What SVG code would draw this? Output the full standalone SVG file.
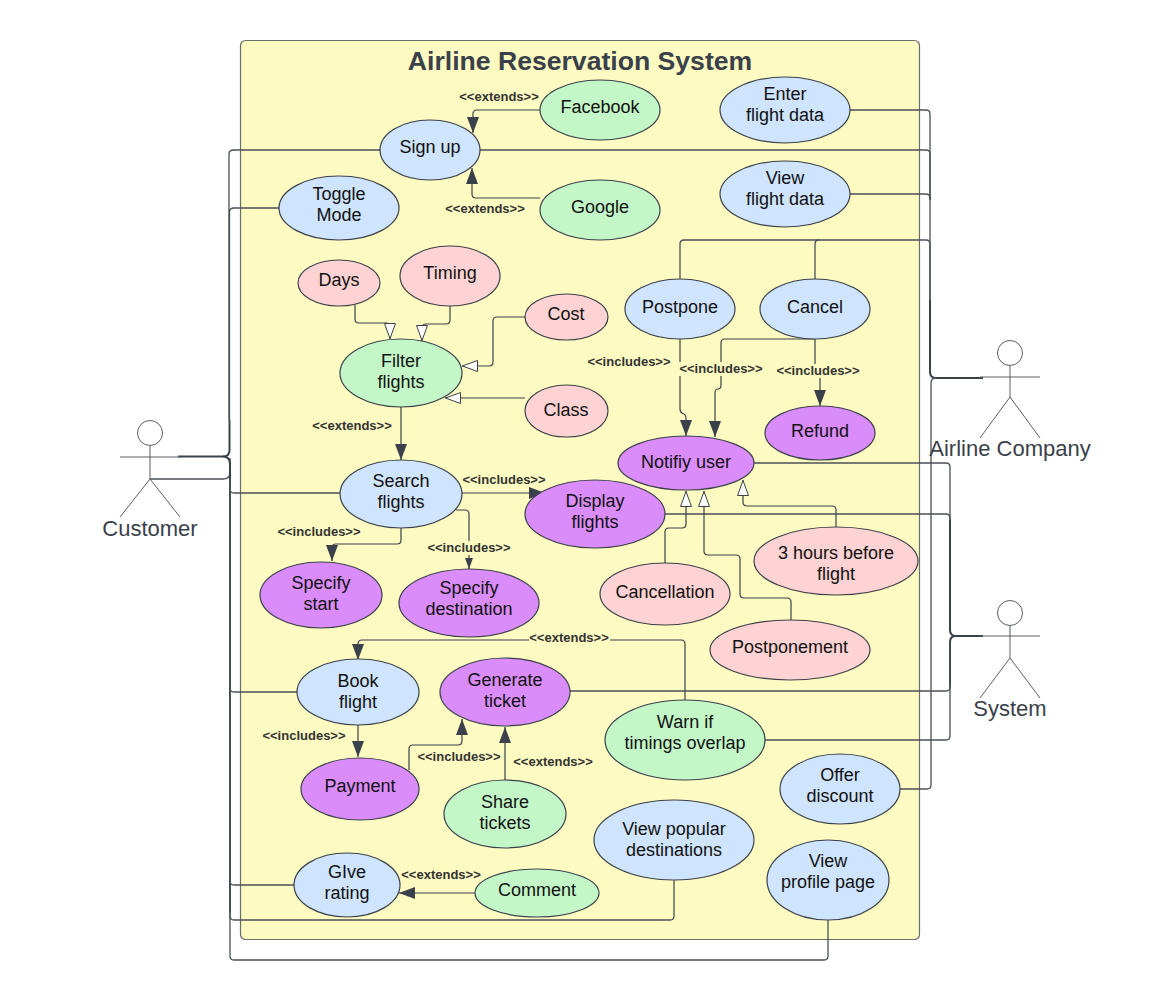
<svg xmlns="http://www.w3.org/2000/svg" width="1160" height="1001" viewBox="0 0 1160 1001">
<style>
text{font-family:"Liberation Sans",Arial,sans-serif;text-anchor:middle}
.n text{font-size:18px;fill:#111}
.n ellipse{stroke:#3a414a;stroke-width:1.2}
.b{fill:#cfe4ff}.g{fill:#c3f7c8}.p{fill:#ffd3d3}.u{fill:#da8cfa}
.c path{fill:none;stroke:#3a414a;stroke-width:1.2}
.c .bus{stroke:#4a5058;stroke-width:1.3}
.c .t{stroke:#3a414a;stroke-width:2}
.f{marker-end:url(#fa)}.s{marker-end:url(#sa)}.h{marker-end:url(#ha)}
.l rect{fill:#fdfbc2}
.l text{font-size:13px;font-weight:bold;fill:#333}
.a *{fill:none;stroke:#5a5f66;stroke-width:1}
.a text{font-size:22px;fill:#3a414a;stroke:none}
</style>
<defs>
<marker id="fa" markerUnits="userSpaceOnUse" markerWidth="18" markerHeight="14" refX="16" refY="6" orient="auto"><path d="M0 0L16 6L0 12Z" fill="#3a414a"/></marker>
<marker id="sa" markerUnits="userSpaceOnUse" markerWidth="14" markerHeight="10" refX="11" refY="4" orient="auto"><path d="M0 0L11 4L0 8Z" fill="#3a414a"/></marker>
<marker id="ha" markerUnits="userSpaceOnUse" markerWidth="18" markerHeight="14" refX="16" refY="6" orient="auto"><path d="M0.500 0.500L15.500 6L0.500 11.500Z" fill="#fff" stroke="#3a414a" stroke-width="1"/></marker>
</defs>
<rect id="frame" x="240.5" y="40.5" width="679" height="899" rx="5" fill="#fdfbc2" stroke="#6b6f6a" stroke-width="1.2"/>
<text x="580" y="69.500" font-size="26.600" font-weight="bold" fill="#3a414a">Airline Reservation System</text>
<g id="connectors" class="c">
<path class="t" d="M178 456.500H223Q229.500 456.500 229.500 450V420"/>
<path class="bus" d="M229 420V154Q229 150 234 150H380"/>
<path class="bus" d="M229.500 420V212Q229.500 208 234 208H279"/>
<path class="bus" d="M150 479H223Q230 479 230 472V458"/>
<path class="t" d="M223 456.500Q230 456.500 230 464V912"/>
<path class="bus" d="M230 479V489Q230 493 234 493H340"/>
<path class="bus" d="M230 479V688Q230 692 234 692H298"/>
<path class="bus" d="M230 479V881Q230 885 234 885H294"/>
<path class="bus" d="M230 479V916Q230 920 234 920H670Q674 920 674 916V880"/>
<path class="bus" d="M230 479V956Q230 960 234 960H824Q828 960 828 956V920"/>
<path class="t" d="M983 378H936Q930 378 930 372V300"/>
<path class="bus" d="M930 300V114Q930 110 926 110H850"/>
<path class="bus" d="M930 200V154Q930 150 926 150H480"/>
<path class="bus" d="M930 200V198Q930 194 926 194H850"/>
<path class="bus" d="M930 300V244Q930 240 926 240H684Q680 240 680 244V280"/>
<path class="bus" d="M819 240Q815 240 815 244V280"/>
<path class="bus" d="M936 378Q931 378 931 383V785Q931 789 927 789H900"/>
<path class="t" d="M983 636H956Q950 636 950 630V520"/>
<path class="bus" d="M950 520V467Q950 463 946 463H754"/>
<path class="bus" d="M950 520V518Q950 514 946 514H665"/>
<path class="t" d="M956 636Q950 636 950 642V687"/>
<path class="bus" d="M950 642V687Q950 691 946 691H570"/>
<path class="bus" d="M950 680V736Q950 740 946 740H765"/>
<path class="f" d="M540 110H477Q473 110 473 114V133"/>
<path class="f" d="M540 198H476Q472 198 472 194V168"/>
<path class="h" d="M355 305V319Q355 323 359 323H386Q390 323 390 327V339"/>
<path class="h" d="M450 306V320Q450 324 446 324H426Q422 324 422 328V341"/>
<path class="h" d="M525 317H497Q493 317 493 321V362Q493 366 489 366H462"/>
<path class="h" d="M525 398H445"/>
<path class="f" d="M401 407V460"/>
<path class="f" d="M401 528V540Q401 544 397 544H336Q332 544 332 548V561"/>
<path class="s" d="M456 510H465Q469 510 469 514V569"/>
<path class="f" d="M462 493H545"/>
<path class="f" d="M680 339V409Q680 413 684 414Q686 415 686 418V436"/>
<path class="f" d="M815 339H725Q721 339 721 343V385Q721 389 718 389Q715 389 715 393V437"/>
<path class="f" d="M815 339V371H820V406"/>
<path class="h" d="M665 563V532Q665 528 669 528H682Q686 528 686 524V491"/>
<path class="h" d="M791 620V602Q791 598 787 598H744Q740 598 740 594V559Q740 555 736 555H708Q704 555 704 551V491"/>
<path class="h" d="M836 527V510Q836 506 832 506H747Q743 506 743 502V480"/>
<path class="f" d="M685 700V644Q685 640 681 640H362Q358 640 358 644V660"/>
<path class="f" d="M358 725V757"/>
<path class="f" d="M409 770V749Q409 745 413 745H458Q462 745 462 741V719"/>
<path class="f" d="M505 780V727"/>
<path class="f" d="M475 893H399"/>
</g>
<g id="n-signup" class="n"><ellipse class="b" cx="430" cy="150" rx="50" ry="30"/><text x="430" y="153">Sign up</text></g>
<g id="n-toggle" class="n"><ellipse class="b" cx="339" cy="208" rx="60" ry="32"/><text x="339" y="200">Toggle</text><text x="339" y="221">Mode</text></g>
<g id="n-facebook" class="n"><ellipse class="g" cx="600" cy="110" rx="60" ry="30"/><text x="600" y="113">Facebook</text></g>
<g id="n-google" class="n"><ellipse class="g" cx="600" cy="210" rx="60" ry="30"/><text x="600" y="213">Google</text></g>
<g id="n-enter" class="n"><ellipse class="b" cx="785" cy="110" rx="65" ry="33"/><text x="785" y="100">Enter</text><text x="785" y="121">flight data</text></g>
<g id="n-view" class="n"><ellipse class="b" cx="785" cy="194" rx="65" ry="33"/><text x="785" y="184">View</text><text x="785" y="205">flight data</text></g>
<g id="n-days" class="n"><ellipse class="p" cx="339" cy="283" rx="41" ry="23"/><text x="339" y="286">Days</text></g>
<g id="n-timing" class="n"><ellipse class="p" cx="450" cy="276" rx="50" ry="30"/><text x="450" y="279">Timing</text></g>
<g id="n-cost" class="n"><ellipse class="p" cx="566.500" cy="317" rx="41.500" ry="23"/><text x="566" y="320">Cost</text></g>
<g id="n-filter" class="n"><ellipse class="g" cx="401" cy="373" rx="61" ry="34"/><text x="401" y="367">Filter</text><text x="401" y="388">flights</text></g>
<g id="n-class" class="n"><ellipse class="p" cx="566.500" cy="411" rx="41.500" ry="26"/><text x="566" y="416">Class</text></g>
<g id="n-postpone" class="n"><ellipse class="b" cx="680" cy="309" rx="55" ry="30"/><text x="680" y="313">Postpone</text></g>
<g id="n-cancel" class="n"><ellipse class="b" cx="815" cy="309" rx="55" ry="30"/><text x="815" y="313">Cancel</text></g>
<g id="n-refund" class="n"><ellipse class="u" cx="820" cy="433" rx="55" ry="27"/><text x="820" y="437">Refund</text></g>
<g id="n-notify" class="n"><ellipse class="u" cx="686" cy="463" rx="68" ry="27"/><text x="686" y="468">Notifiy user</text></g>
<g id="n-search" class="n"><ellipse class="b" cx="401" cy="494" rx="61" ry="34"/><text x="401" y="487">Search</text><text x="401" y="508">flights</text></g>
<g id="n-display" class="n"><ellipse class="u" cx="595" cy="514" rx="70" ry="34"/><text x="595" y="507">Display</text><text x="595" y="528">flights</text></g>
<g id="n-3hours" class="n"><ellipse class="p" cx="836" cy="561" rx="82" ry="34"/><text x="836" y="559">3 hours before</text><text x="836" y="580">flight</text></g>
<g id="n-cancellation" class="n"><ellipse class="p" cx="665" cy="594" rx="65" ry="31"/><text x="665" y="598">Cancellation</text></g>
<g id="n-postponement" class="n"><ellipse class="p" cx="790" cy="650" rx="80" ry="30"/><text x="790" y="653">Postponement</text></g>
<g id="n-start" class="n"><ellipse class="u" cx="321" cy="595" rx="61" ry="33"/><text x="321" y="589">Specify</text><text x="321" y="610">start</text></g>
<g id="n-dest" class="n"><ellipse class="u" cx="469" cy="603" rx="70" ry="34"/><text x="469" y="594">Specify</text><text x="469" y="615">destination</text></g>
<g id="n-book" class="n"><ellipse class="b" cx="358" cy="692" rx="61" ry="33"/><text x="358" y="687">Book</text><text x="358" y="708">flight</text></g>
<g id="n-generate" class="n"><ellipse class="u" cx="505" cy="692" rx="65" ry="34"/><text x="505" y="686">Generate</text><text x="505" y="707">ticket</text></g>
<g id="n-warn" class="n"><ellipse class="g" cx="685" cy="740" rx="80" ry="40"/><text x="685" y="728">Warn if</text><text x="685" y="749">timings overlap</text></g>
<g id="n-payment" class="n"><ellipse class="u" cx="360" cy="789" rx="59" ry="31"/><text x="360" y="792">Payment</text></g>
<g id="n-share" class="n"><ellipse class="g" cx="505" cy="814" rx="61" ry="34"/><text x="505" y="808">Share</text><text x="505" y="829">tickets</text></g>
<g id="n-popular" class="n"><ellipse class="b" cx="674" cy="840" rx="80" ry="40"/><text x="674" y="835">View popular</text><text x="674" y="856">destinations</text></g>
<g id="n-offer" class="n"><ellipse class="b" cx="840" cy="789" rx="60" ry="35"/><text x="840" y="781">Offer</text><text x="840" y="802">discount</text></g>
<g id="n-profile" class="n"><ellipse class="b" cx="828" cy="880" rx="61" ry="40"/><text x="828" y="867">View</text><text x="828" y="888">profile page</text></g>
<g id="n-give" class="n"><ellipse class="b" cx="347" cy="885" rx="53" ry="32"/><text x="347" y="878">GIve</text><text x="347" y="899">rating</text></g>
<g id="n-comment" class="n"><ellipse class="g" cx="537" cy="893" rx="62" ry="24"/><text x="537" y="896">Comment</text></g>
<g id="labels" class="l">
<text x="499" y="100.500">&lt;&lt;extends&gt;&gt;</text>
<text x="485" y="213">&lt;&lt;extends&gt;&gt;</text>
<text x="352" y="430">&lt;&lt;extends&gt;&gt;</text>
<text x="504" y="484">&lt;&lt;includes&gt;&gt;</text>
<text x="319" y="536">&lt;&lt;includes&gt;&gt;</text>
<rect x="427" y="541" width="84" height="14"/><text x="469" y="552">&lt;&lt;includes&gt;&gt;</text>
<text x="629" y="366">&lt;&lt;includes&gt;&gt;</text>
<rect x="679" y="362" width="84" height="14"/><text x="721" y="373">&lt;&lt;includes&gt;&gt;</text>
<rect x="776" y="364" width="84" height="14"/><text x="818" y="375">&lt;&lt;includes&gt;&gt;</text>
<rect x="529" y="631" width="81" height="14"/><text x="569" y="642">&lt;&lt;extends&gt;&gt;</text>
<text x="304" y="740">&lt;&lt;includes&gt;&gt;</text>
<text x="459" y="761">&lt;&lt;includes&gt;&gt;</text>
<text x="553" y="766">&lt;&lt;extends&gt;&gt;</text>
<text x="441" y="879">&lt;&lt;extends&gt;&gt;</text>
</g>
<g id="actor-customer" class="a"><circle cx="150" cy="433" r="12.500"/><path d="M150 445.500V479M120 457H180M150 479L120 517M150 479L180 517"/><text x="150" y="536">Customer</text></g>
<g id="actor-airline" class="a"><circle cx="1010" cy="353" r="12.500"/><path d="M1010 365.500V397M980 377H1040M1010 397L980 438M1010 397L1040 438"/><text x="1010" y="456">Airline Company</text></g>
<g id="actor-system" class="a"><circle cx="1010" cy="613" r="12.500"/><path d="M1010 625.500V658M980 636H1040M1010 658L980 698M1010 658L1040 698"/><text x="1010" y="716">System</text></g>
</svg>
